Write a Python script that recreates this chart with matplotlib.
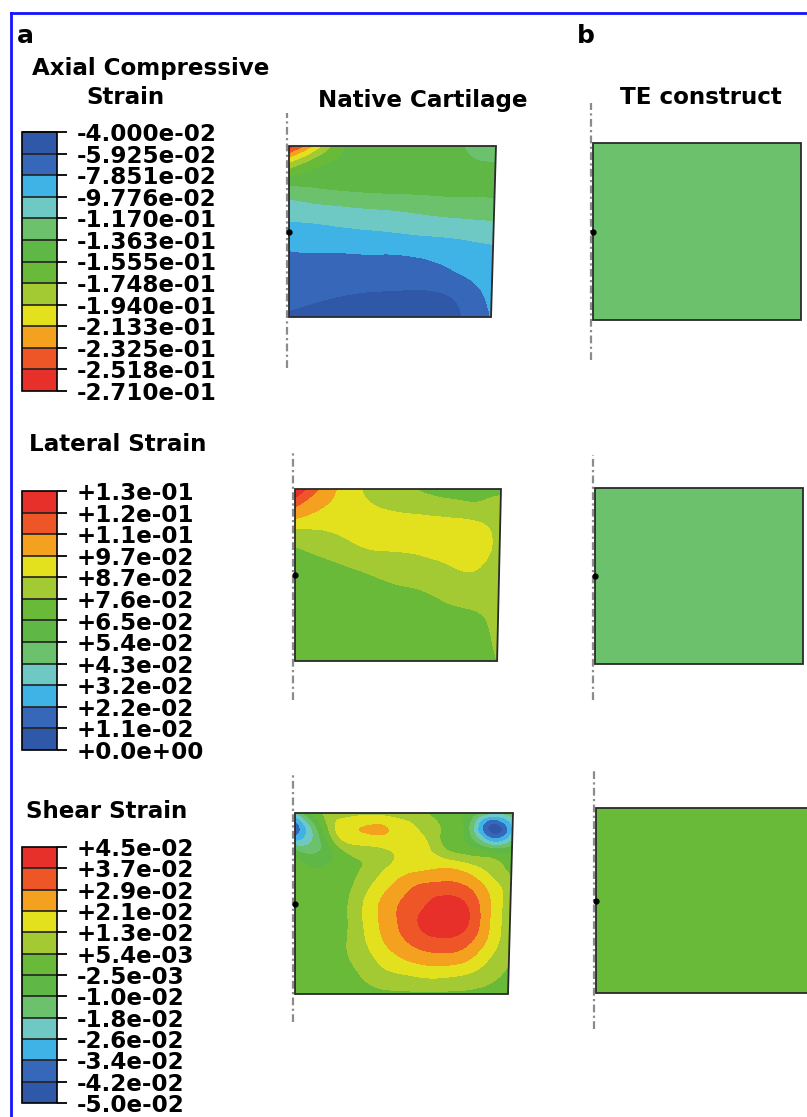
import numpy as np
import matplotlib
matplotlib.use('Agg')
import matplotlib.pyplot as plt
import matplotlib.tri as mtri
from matplotlib.colors import ListedColormap, BoundaryNorm
from matplotlib.cm import ScalarMappable
from matplotlib.patches import Polygon
from matplotlib.lines import Line2D
from matplotlib.ticker import FuncFormatter

W, H = 807, 1117

# contour legend levels, listed top to bottom as in the legends
axial_levels = [-4.000e-02, -5.925e-02, -7.851e-02, -9.776e-02, -1.170e-01, -1.363e-01,
                -1.555e-01, -1.748e-01, -1.940e-01, -2.133e-01, -2.325e-01, -2.518e-01, -2.710e-01]
lateral_levels = [1.3e-01, 1.2e-01, 1.1e-01, 9.7e-02, 8.7e-02, 7.6e-02, 6.5e-02,
                  5.4e-02, 4.3e-02, 3.2e-02, 2.2e-02, 1.1e-02, 0.0]
shear_levels = [4.5e-02, 3.7e-02, 2.9e-02, 2.1e-02, 1.3e-02, 5.4e-03, -2.5e-03,
                -1.0e-02, -1.8e-02, -2.6e-02, -3.4e-02, -4.2e-02, -5.0e-02]

# Abaqus-like rainbow, red -> blue
rainbow = ['#e8302b', '#ee5628', '#f4a11f', '#e3e01e', '#a3c933', '#6aba3a',
           '#5fb745', '#6cc26c', '#6ec9c4', '#3fb3e5', '#3667b9', '#3058a8']

# native cartilage strain fields, rows = top -> bottom, cols = axis -> outer edge
axial_native = [
    [-0.268, -0.212, -0.160, -0.150, -0.150, -0.148, -0.145, -0.134, -0.128],
    [-0.182, -0.158, -0.151, -0.150, -0.150, -0.148, -0.145, -0.140, -0.139],
    [-0.132, -0.136, -0.139, -0.141, -0.142, -0.142, -0.142, -0.141, -0.140],
    [-0.107, -0.110, -0.113, -0.116, -0.118, -0.121, -0.124, -0.126, -0.128],
    [-0.091, -0.093, -0.095, -0.097, -0.099, -0.102, -0.104, -0.106, -0.108],
    [-0.078, -0.079, -0.079, -0.080, -0.080, -0.082, -0.085, -0.090, -0.094],
    [-0.071, -0.070, -0.070, -0.069, -0.069, -0.070, -0.074, -0.081, -0.087],
    [-0.064, -0.062, -0.060, -0.058, -0.057, -0.056, -0.058, -0.068, -0.085],
    [-0.058, -0.056, -0.054, -0.052, -0.051, -0.051, -0.053, -0.062, -0.080],
]
lateral_native = [
    [0.129, 0.108, 0.092, 0.085, 0.080, 0.075, 0.073, 0.073, 0.074],
    [0.106, 0.096, 0.092, 0.089, 0.086, 0.084, 0.082, 0.080, 0.080],
    [0.084, 0.086, 0.089, 0.093, 0.094, 0.094, 0.094, 0.093, 0.082],
    [0.074, 0.077, 0.081, 0.085, 0.086, 0.088, 0.091, 0.092, 0.082],
    [0.070, 0.071, 0.073, 0.076, 0.079, 0.081, 0.084, 0.086, 0.080],
    [0.068, 0.068, 0.069, 0.070, 0.072, 0.074, 0.078, 0.080, 0.080],
    [0.067, 0.067, 0.067, 0.068, 0.069, 0.070, 0.072, 0.074, 0.079],
    [0.066, 0.066, 0.066, 0.067, 0.067, 0.068, 0.069, 0.071, 0.078],
    [0.066, 0.066, 0.066, 0.066, 0.066, 0.067, 0.068, 0.069, 0.076],
]
shear_native = [
    [-0.020, 0.003, 0.007, 0.010, 0.010, 0.009, 0.006, 0.002, -0.004, -0.016, -0.012],
    [-0.040, -0.012, 0.015, 0.021, 0.022, 0.017, 0.011, 0.004, -0.010, -0.044, -0.025],
    [-0.012, -0.012, 0.003, 0.010, 0.012, 0.016, 0.015, 0.005, 0.000, -0.008, -0.006],
    [0.000, -0.003, 0.000, 0.005, 0.011, 0.017, 0.019, 0.020, 0.016, 0.010, 0.004],
    [0.000, 0.000, 0.001, 0.008, 0.017, 0.025, 0.030, 0.031, 0.028, 0.018, 0.008],
    [0.000, 0.000, 0.002, 0.011, 0.022, 0.030, 0.036, 0.041, 0.036, 0.022, 0.008],
    [0.000, 0.000, 0.002, 0.011, 0.022, 0.031, 0.039, 0.043, 0.038, 0.022, 0.008],
    [0.000, 0.000, 0.003, 0.010, 0.020, 0.028, 0.034, 0.036, 0.032, 0.020, 0.007],
    [0.000, 0.000, 0.003, 0.008, 0.015, 0.021, 0.025, 0.026, 0.023, 0.014, 0.006],
    [0.000, 0.000, 0.002, 0.005, 0.010, 0.012, 0.014, 0.014, 0.012, 0.008, 0.004],
    [0.000, 0.000, 0.001, 0.002, 0.003, 0.004, 0.004, 0.004, 0.004, 0.003, 0.002],
]

# TE construct: uniform strain
te_axial = -0.127
te_lateral = 0.049
te_shear = 0.001

fig = plt.figure(figsize=(W / 100, H / 100), dpi=100)
BOLD = dict(family='DejaVu Sans', fontweight='bold')
FS = 16.6


def fx(x):
    return x / W


def fy(y):
    return 1 - y / H


def scale(levels_desc, colors_desc):
    bounds = levels_desc[::-1]
    cmap = ListedColormap(colors_desc[::-1])
    norm = BoundaryNorm(bounds, cmap.N)
    return bounds, cmap, norm


def legend_bar(top, bottom, levels_desc, colors_desc, fmt):
    bounds, cmap, norm = scale(levels_desc, colors_desc)
    cax = fig.add_axes([fx(22), fy(bottom), fx(57) - fx(22), fy(top) - fy(bottom)])
    cb = fig.colorbar(ScalarMappable(norm=norm, cmap=cmap), cax=cax, drawedges=True,
                      ticks=bounds, format=FuncFormatter(lambda v, pos: fmt % v))
    cb.outline.set_linewidth(1.2)
    cb.dividers.set_color('#222222')
    cb.dividers.set_linewidth(1.2)
    cax.tick_params(axis='y', length=7, width=1.3, pad=7, labelsize=FS, colors='black')
    for t in cax.get_yticklabels():
        t.set_fontweight('bold')
        t.set_family('DejaVu Sans')
    return cmap, norm, bounds


def panel(box, span):
    l, t, r, b = box
    at, ab = span
    al, ar = l - 14, r + 14
    ax = fig.add_axes([fx(al), fy(ab + 4), fx(ar) - fx(al), fy(at - 4) - fy(ab + 4)])
    ax.set_xlim((al - l) / (r - l), (ar - l) / (r - l))
    ax.set_ylim((b - (ab + 4)) / (b - t), (b - (at - 4)) / (b - t))
    ax.axis('off')
    # symmetry axis
    x_axis = -2.3 / (r - l)
    ax.plot([x_axis, x_axis], [(b - ab) / (b - t), (b - at) / (b - t)],
            color='#8c8c8c', lw=1.6, ls=(0, (3.5, 1.5, 1, 1.5)), zorder=1)
    ax.plot([0], [0.5], 'o', color='black', ms=3.5, zorder=5)
    return ax


def draw_field(ax, grid, cmap, norm, bounds, taper):
    g = np.array(grid, dtype=float)[::-1]
    ny, nx = g.shape
    X, Z = np.meshgrid(np.linspace(0, 1, nx), np.linspace(0, 1, ny))
    X = X * (1 - taper * (1 - Z))
    tri = mtri.Triangulation(X.ravel(), Z.ravel())
    tri_f, v_f = mtri.UniformTriRefiner(tri).refine_field(g.ravel(), subdiv=4)
    eps = 1e-9
    v_f = np.clip(v_f, bounds[0] + eps, bounds[-1] - eps)
    ax.tricontourf(tri_f, v_f, levels=bounds, cmap=cmap, norm=norm, zorder=2)
    shape = [(0, 0), (1 - taper, 0), (1, 1), (0, 1)]
    ax.add_patch(Polygon(shape, closed=True, fill=False, edgecolor='#2a2a2a', lw=1.3, zorder=3))


def draw_uniform(ax, value, cmap, norm):
    shape = [(0, 0), (1, 0), (1, 1), (0, 1)]
    ax.add_patch(Polygon(shape, closed=True, facecolor=cmap(norm(value)),
                         edgecolor='#2a2a2a', lw=1.3, zorder=3))


# frame
fig.add_artist(Line2D([fx(11), 1], [fy(13), fy(13)], color='#1414ff', lw=2.0))
fig.add_artist(Line2D([fx(11), fx(11)], [fy(13), 0], color='#1414ff', lw=2.0))

# headings
fig.text(fx(17), fy(36), 'a', fontsize=18, va='center', ha='left', **BOLD)
fig.text(fx(577), fy(36), 'b', fontsize=18, va='center', ha='left', **BOLD)
fig.text(fx(151), fy(68), 'Axial Compressive', fontsize=FS, ha='center', va='center', **BOLD)
fig.text(fx(125), fy(97), 'Strain', fontsize=FS, ha='center', va='center', **BOLD)
fig.text(fx(423), fy(100), 'Native Cartilage', fontsize=FS, ha='center', va='center', **BOLD)
fig.text(fx(701), fy(98), 'TE construct', fontsize=FS, ha='center', va='center', **BOLD)
fig.text(fx(29), fy(444), 'Lateral Strain', fontsize=FS, ha='left', va='center', **BOLD)
fig.text(fx(26), fy(812), 'Shear Strain', fontsize=FS, ha='left', va='center', **BOLD)

# legends
ax_cmap, ax_norm, ax_b = legend_bar(132, 391, axial_levels, rainbow[::-1], '%.3e')
la_cmap, la_norm, la_b = legend_bar(491, 750, lateral_levels, rainbow, '%+.1e')
sh_cmap, sh_norm, sh_b = legend_bar(847, 1103, shear_levels, rainbow, '%+.1e')

# native cartilage
rows = [
    ((289, 146, 496, 317), (113, 368), 0.024, axial_native, ax_cmap, ax_norm, ax_b),
    ((295, 489, 501, 661), (453, 700), 0.019, lateral_native, la_cmap, la_norm, la_b),
    ((295, 813, 513, 994), (773, 1022), 0.023, shear_native, sh_cmap, sh_norm, sh_b),
]
for box, span, taper, grid, cmap, norm, bounds in rows:
    ax = panel(box, span)
    draw_field(ax, grid, cmap, norm, bounds, taper)

# TE construct
te_rows = [
    ((593, 143, 801, 320), (103, 360), te_axial, ax_cmap, ax_norm),
    ((595, 488, 803, 664), (455, 700), te_lateral, la_cmap, la_norm),
    ((596, 808, 810, 993), (770, 1029), te_shear, sh_cmap, sh_norm),
]
for box, span, value, cmap, norm in te_rows:
    ax = panel(box, span)
    draw_uniform(ax, value, cmap, norm)

fig.savefig('out.png', dpi=100)
